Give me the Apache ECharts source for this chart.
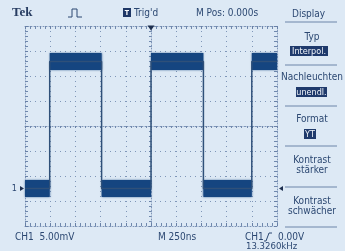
<!DOCTYPE html>
<html>
<head>
<meta charset="utf-8">
<script src="https://cdn.jsdelivr.net/npm/echarts@6/dist/echarts.min.js"></script>
<style>
html, body { margin: 0; padding: 0; background: #dde9f5; }
#chart { width: 345px; height: 251px; }
</style>
</head>
<body>
<div id="chart"></div>
<script>
// time in ns relative to trigger, voltage in mV (5 mV/div, 250 ns/div)
const traceTime = [-1250, -1005, -1005, -490, -490, 0, 0, 520, 520, 1000, 1000, 1250];
const traceVolt = [-12.5, -12.5, 12.9, 12.9, -12.5, -12.5, 12.9, 12.9, -12.5, -12.5, 12.9, 12.9];

// noise band of each flat part: start, end, lower edge, upper edge
const bandStart = [-1250, -1005, -490, 0, 520, 1000];
const bandEnd = [-1005, -490, 0, 520, 1000, 1250];
const bandLow = [-14.2, 11.2, -14.2, 11.2, -14.2, 11.2];
const bandHigh = [-10.8, 14.6, -10.8, 14.6, -10.8, 14.6];

const groundLevel = -12.5;
const triggerLevel = -12.5;

const menuTitles = ["Typ", "Nachleuchten", "Format"];
const menuValues = ["Interpol.", "unendl.", "YT"];

const font = "'DejaVu Sans Condensed', 'Liberation Sans Narrow', 'Liberation Sans', sans-serif";
const ink = "#2c4872";
const gridCol = "#7f96b8";

const myChart = echarts.init(document.getElementById("chart"));

const borderAxis = (pos) => ({
  type: "value",
  min: -1250,
  max: 1250,
  interval: 250,
  position: pos,
  axisLabel: { show: false },
  axisLine: { onZero: false, lineStyle: { color: gridCol, width: 1, type: [1, 2] } },
  axisTick: { show: true, inside: true, length: 3, lineStyle: { color: "#6880a6" } },
  minorTick: { show: true, splitNumber: 5, length: 3, lineStyle: { color: "#6f88ad" } },
  splitLine: { show: false },
});

const xAxes = [
  Object.assign(borderAxis("bottom"), { splitLine: { show: true, lineStyle: { color: gridCol, width: 1, type: [1, 4] } } }),
  borderAxis("top"),
  Object.assign(borderAxis("bottom"), {
    axisLine: { onZero: true, lineStyle: { color: gridCol, width: 1, type: [1, 2] } },
    axisTick: { show: true, length: 2, lineStyle: { color: "#6880a6" } },
    minorTick: { show: true, splitNumber: 5, length: 2, lineStyle: { color: "#6f88ad" } },
  }),
];

const yBorder = (pos) => ({
  type: "value",
  min: -20,
  max: 20,
  interval: 5,
  position: pos,
  axisLabel: { show: false },
  axisLine: { onZero: false, lineStyle: { color: gridCol, width: 1, type: [1, 2] } },
  axisTick: { show: true, inside: true, length: 3, lineStyle: { color: "#6880a6" } },
  minorTick: { show: true, splitNumber: 5, length: 3, lineStyle: { color: "#6f88ad" } },
  splitLine: { show: false },
});

const yAxes = [
  Object.assign(yBorder("left"), { splitLine: { show: true, lineStyle: { color: gridCol, width: 1, type: [1, 4] } } }),
  yBorder("right"),
  Object.assign(yBorder("left"), {
    axisLine: { onZero: true, lineStyle: { color: gridCol, width: 1, type: [1, 2] } },
    axisTick: { show: true, length: 2, lineStyle: { color: "#6880a6" } },
    minorTick: { show: true, splitNumber: 5, length: 2, lineStyle: { color: "#6f88ad" } },
  }),
];

const txt = (x, y, text, size, extra) => ({
  type: "text",
  x: x,
  y: y,
  style: Object.assign({ text: text, fill: ink, font: size + "px " + font, textVerticalAlign: "middle" }, extra || {}),
});

const graphics = [
  // header
  txt(12, 13, "Tek", 13, { font: "bold 13px 'Liberation Serif', 'DejaVu Serif', serif", fill: "#283d62" }),
  { type: "polyline", shape: { points: [[68, 17], [72, 17], [72, 9], [77, 9], [77, 17], [82, 17]] }, style: { stroke: ink, lineWidth: 1, fill: null } },
  { type: "rect", shape: { x: 123, y: 8, width: 8, height: 9 }, style: { fill: "#1e3766" } },
  txt(127, 13, "T", 7, { fill: "#fff", align: "center", font: "bold 7px " + font }),
  txt(134, 13, "Trig'd", 10),
  txt(196, 13, "M Pos: 0.000s", 10),
  txt(292, 14, "Display", 10),
  // bottom
  txt(15, 237, "CH1  5.00mV", 10),
  txt(158, 237, "M 250ns", 10),
  txt(245, 237, "CH1", 10),
  { type: "polyline", shape: { points: [[264, 241], [266, 241], [269, 233], [272, 233]] }, style: { stroke: ink, lineWidth: 1, fill: null } },
  txt(278, 237, "0.00V", 10),
  txt(246, 247, "13.3260kHz", 9.5),
];

// right side menu
const dividers = [22, 65, 106, 146, 187, 227];
dividers.forEach((y) => {
  graphics.push({ type: "line", shape: { x1: 285, y1: y, x2: 337, y2: y }, style: { stroke: "#6d85a9", lineWidth: 1 } });
});
const titleY = [37, 77, 119];
const valueBox = [[290, 46, 38, 10], [296, 87, 31, 10], [304, 129, 12, 10]];
menuTitles.forEach((t, i) => {
  graphics.push(txt(312, titleY[i], t, 10, { align: "center" }));
  const b = valueBox[i];
  graphics.push({ type: "rect", shape: { x: b[0], y: b[1], width: b[2], height: b[3] }, style: { fill: "#1f3a6c" } });
  graphics.push(txt(b[0] + b[2] / 2, b[1] + b[3] / 2 + 0.5, menuValues[i], 9, { align: "center", fill: "#f2f6fb" }));
});
graphics.push(txt(312, 160, "Kontrast", 10, { align: "center" }));
graphics.push(txt(312, 170, "stärker", 10, { align: "center" }));
graphics.push(txt(312, 201, "Kontrast", 10, { align: "center" }));
graphics.push(txt(312, 211, "schwächer", 10, { align: "center" }));

const option = {
  backgroundColor: "#dde9f5",
  animation: false,
  grid: { left: 25, right: 68, top: 26, bottom: 25, containLabel: false },
  xAxis: xAxes,
  yAxis: yAxes,
  graphic: graphics,
  series: [
    {
      type: "custom",
      xAxisIndex: 0,
      yAxisIndex: 0,
      data: bandStart.map((s, i) => [s, bandEnd[i], bandLow[i], bandHigh[i]]),
      renderItem: (params, api) => {
        const p0 = api.coord([api.value(0), api.value(3)]);
        const p1 = api.coord([api.value(1), api.value(2)]);
        return {
          type: "rect",
          shape: { x: p0[0], y: p0[1], width: p1[0] - p0[0], height: p1[1] - p0[1] },
          style: { fill: "#154580", shadowBlur: 2, shadowColor: "rgba(21,69,128,0.7)" },
        };
      },
      z: 3,
    },
    {
      type: "line",
      xAxisIndex: 0,
      yAxisIndex: 0,
      data: traceTime.map((t, i) => [t, traceVolt[i]]),
      showSymbol: false,
      lineStyle: { color: "#2f5079", width: 1.5 },
      z: 4,
      markPoint: {
        silent: true,
        data: [
          { coord: [0, 20], symbol: "triangle", symbolRotate: 180, symbolSize: [7, 5], symbolOffset: [0, 2], itemStyle: { color: "#1d2f4f" }, label: { show: false } },
          {
            coord: [-1250, groundLevel], symbol: "triangle", symbolRotate: -90, symbolSize: [5, 4], symbolOffset: [-3, 0],
            itemStyle: { color: "#1d2f4f" },
            label: { show: true, formatter: "1", position: "left", distance: 3, color: ink, fontSize: 9, fontFamily: font },
          },
          { coord: [1250, triggerLevel], symbol: "triangle", symbolRotate: 90, symbolSize: [5, 4], symbolOffset: [4, 0], itemStyle: { color: "#1d2f4f" }, label: { show: false } },
        ],
      },
    },
  ],
};

option && myChart.setOption(option);
</script>
</body>
</html>
